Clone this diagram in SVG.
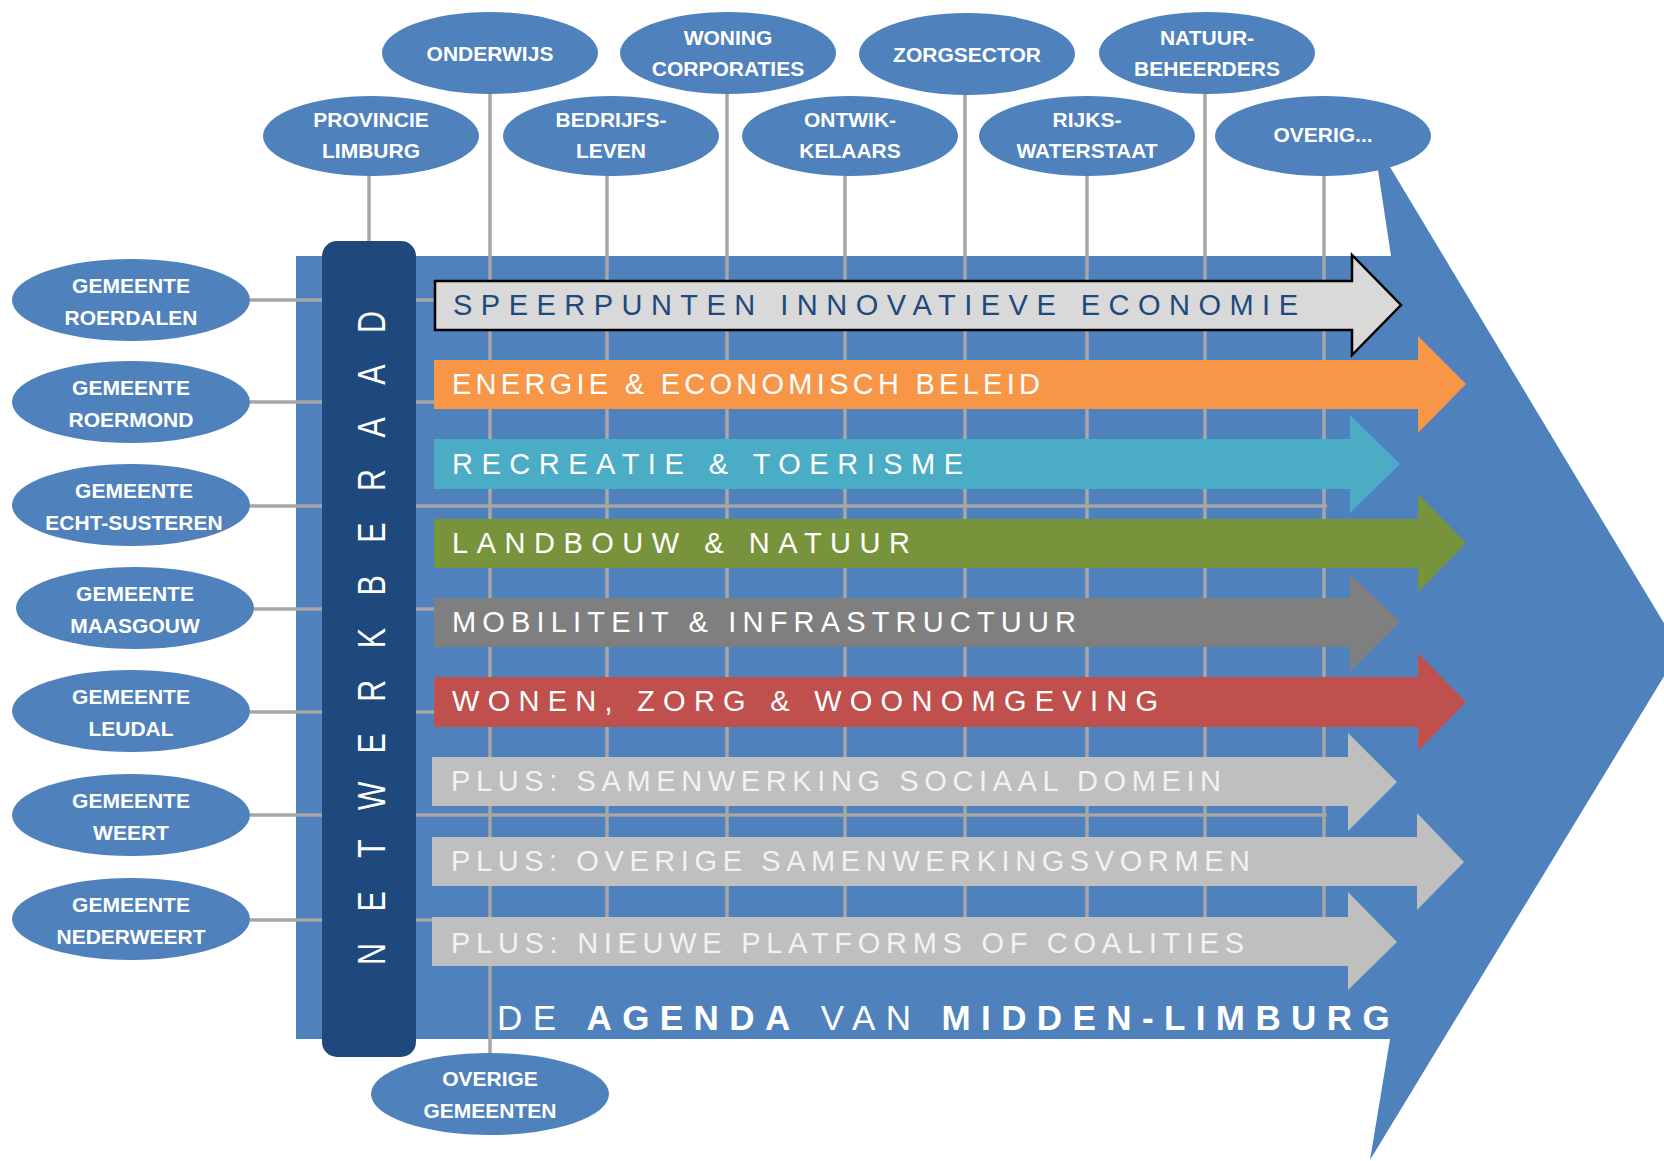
<svg xmlns="http://www.w3.org/2000/svg" width="1664" height="1161" viewBox="0 0 1664 1161">
<style>
.ell{fill:#4F81BD}
.et{font-family:"Liberation Sans",Arial,sans-serif;font-weight:bold;font-size:21px;fill:#FFFFFF;text-anchor:middle}
.ln{stroke:#A6A6A6;stroke-width:3.5;fill:none}
.at{font-family:"Liberation Sans",Arial,sans-serif;font-size:29px;fill:#FFFFFF}
.pt{fill:#F2F2F2}
</style>
<rect width="1664" height="1161" fill="#FFFFFF"/>
<g id="agenda-arrow">
<polygon points="296,256 1391,256 1378,170 1390,167 1680,650 1370,1160 1390,1039 296,1039" fill="#4F81BD"/>
</g>
<g id="connectors" class="ln">
<line x1="250" y1="300" x2="1327" y2="300"/>
<line x1="250" y1="402" x2="1327" y2="402"/>
<line x1="250" y1="506" x2="1327" y2="506"/>
<line x1="254" y1="609" x2="1327" y2="609"/>
<line x1="250" y1="712" x2="1327" y2="712"/>
<line x1="250" y1="815" x2="1327" y2="815"/>
<line x1="250" y1="920" x2="1327" y2="920"/>
<line x1="369" y1="170" x2="369" y2="245"/>
<line x1="490" y1="90" x2="490" y2="1055"/>
<line x1="607" y1="170" x2="607" y2="917"/>
<line x1="727" y1="90" x2="727" y2="917"/>
<line x1="845" y1="170" x2="845" y2="917"/>
<line x1="965" y1="90" x2="965" y2="917"/>
<line x1="1087" y1="170" x2="1087" y2="917"/>
<line x1="1205" y1="90" x2="1205" y2="917"/>
<line x1="1324" y1="170" x2="1324" y2="917"/>
</g>
<g id="netwerkberaad">
<rect x="322" y="241" width="94" height="816" rx="15" fill="#1F497D"/>
<text transform="translate(369 638) rotate(-90) scale(0.8 1)" y="16" x="-395 -329.17 -263.33 -197.5 -131.67 -65.83 0 65.83 131.67 197.5 263.33 329.17 395" font-family="'Liberation Sans',Arial,sans-serif" font-size="38" fill="#FFFFFF" text-anchor="middle">NETWERKBERAAD</text>
</g>
<g id="arrow-speerpunten">
<path d="M435,281 H1352 V255 L1401,305 L1352,355 V330 H435 Z" fill="#D9D9D9" stroke="#000000" stroke-width="2.5" stroke-linejoin="miter"/>
<text class="at" x="453" y="315" style="fill:#1F497D" textLength="845" lengthAdjust="spacing">SPEERPUNTEN INNOVATIEVE ECONOMIE</text>
</g>
<g id="arrow-energie">
<path d="M434,360 H1418 V336 L1466,384 L1418,433 V409 H434 Z" fill="#F79646"/>
<text class="at" x="452" y="394" textLength="588" lengthAdjust="spacing">ENERGIE &amp; ECONOMISCH BELEID</text>
</g>
<g id="arrow-recreatie">
<path d="M434,439 H1350 V415 L1400,464 L1350,513 V489 H434 Z" fill="#4BACC6"/>
<text class="at" x="452" y="474" textLength="511" lengthAdjust="spacing">RECREATIE &amp; TOERISME</text>
</g>
<g id="arrow-landbouw">
<path d="M434,519 H1418 V494 L1466,543 L1418,592 V568 H434 Z" fill="#77933C"/>
<text class="at" x="452" y="553" textLength="458" lengthAdjust="spacing">LANDBOUW &amp; NATUUR</text>
</g>
<g id="arrow-mobiliteit">
<path d="M434,598 H1350 V574 L1400,622 L1350,671 V647 H434 Z" fill="#7F7F7F"/>
<text class="at" x="452" y="632" textLength="624" lengthAdjust="spacing">MOBILITEIT &amp; INFRASTRUCTUUR</text>
</g>
<g id="arrow-wonen">
<path d="M434,677 H1418 V653 L1466,702 L1418,751 V727 H434 Z" fill="#C0504D"/>
<text class="at" x="452" y="711" textLength="706" lengthAdjust="spacing">WONEN, ZORG &amp; WOONOMGEVING</text>
</g>
<g id="arrow-sociaal">
<path d="M432,757 H1348 V733 L1397,782 L1348,831 V806 H432 Z" fill="#BFBFBF"/>
<text class="at pt" x="451" y="791" textLength="770" lengthAdjust="spacing">PLUS: SAMENWERKING SOCIAAL DOMEIN</text>
</g>
<g id="arrow-overige">
<path d="M432,837 H1417 V813 L1464,862 L1417,910 V886 H432 Z" fill="#BFBFBF"/>
<text class="at pt" x="451" y="871" textLength="799" lengthAdjust="spacing">PLUS: OVERIGE SAMENWERKINGSVORMEN</text>
</g>
<g id="arrow-platforms">
<path d="M432,917 H1348 V892 L1397,942 L1348,990 V966 H432 Z" fill="#BFBFBF"/>
<text class="at pt" x="451" y="953" textLength="793" lengthAdjust="spacing">PLUS: NIEUWE PLATFORMS OF COALITIES</text>
</g>
<g id="title">
<text x="497" y="1030" font-family="'Liberation Sans',Arial,sans-serif" font-size="35" fill="#FFFFFF" letter-spacing="10.4">DE <tspan font-weight="bold">AGENDA</tspan> VAN <tspan font-weight="bold">MIDDEN-LIMBURG</tspan></text>
</g>
<g id="node-onderwijs"><ellipse class="ell" cx="490" cy="53" rx="108" ry="41"/><text class="et" x="490" y="61">ONDERWIJS</text></g>
<g id="node-woning"><ellipse class="ell" cx="728" cy="53" rx="108" ry="41"/><text class="et" x="728" y="45">WONING</text><text class="et" x="728" y="76">CORPORATIES</text></g>
<g id="node-zorgsector"><ellipse class="ell" cx="967" cy="54" rx="108" ry="41"/><text class="et" x="967" y="62">ZORGSECTOR</text></g>
<g id="node-natuur"><ellipse class="ell" cx="1207" cy="53" rx="108" ry="41"/><text class="et" x="1207" y="45">NATUUR-</text><text class="et" x="1207" y="76">BEHEERDERS</text></g>
<g id="node-provincie"><ellipse class="ell" cx="371" cy="136" rx="108" ry="40"/><text class="et" x="371" y="127">PROVINCIE</text><text class="et" x="371" y="158">LIMBURG</text></g>
<g id="node-bedrijfsleven"><ellipse class="ell" cx="611" cy="136" rx="108" ry="40"/><text class="et" x="611" y="127">BEDRIJFS-</text><text class="et" x="611" y="158">LEVEN</text></g>
<g id="node-ontwikkelaars"><ellipse class="ell" cx="850" cy="136" rx="108" ry="40"/><text class="et" x="850" y="127">ONTWIK-</text><text class="et" x="850" y="158">KELAARS</text></g>
<g id="node-rijkswaterstaat"><ellipse class="ell" cx="1087" cy="136" rx="108" ry="40"/><text class="et" x="1087" y="127">RIJKS-</text><text class="et" x="1087" y="158">WATERSTAAT</text></g>
<g id="node-overig"><ellipse class="ell" cx="1323" cy="136" rx="108" ry="40"/><text class="et" x="1323" y="142">OVERIG...</text></g>
<g id="node-roerdalen"><ellipse class="ell" cx="131" cy="300" rx="119" ry="41"/><text class="et" x="131" y="293">GEMEENTE</text><text class="et" x="131" y="325">ROERDALEN</text></g>
<g id="node-roermond"><ellipse class="ell" cx="131" cy="402" rx="119" ry="41"/><text class="et" x="131" y="395">GEMEENTE</text><text class="et" x="131" y="427">ROERMOND</text></g>
<g id="node-echt-susteren"><ellipse class="ell" cx="131" cy="505" rx="119" ry="41"/><text class="et" x="134" y="498">GEMEENTE</text><text class="et" x="134" y="530">ECHT-SUSTEREN</text></g>
<g id="node-maasgouw"><ellipse class="ell" cx="135" cy="608" rx="119" ry="41"/><text class="et" x="135" y="601">GEMEENTE</text><text class="et" x="135" y="633">MAASGOUW</text></g>
<g id="node-leudal"><ellipse class="ell" cx="131" cy="711" rx="119" ry="41"/><text class="et" x="131" y="704">GEMEENTE</text><text class="et" x="131" y="736">LEUDAL</text></g>
<g id="node-weert"><ellipse class="ell" cx="131" cy="815" rx="119" ry="41"/><text class="et" x="131" y="808">GEMEENTE</text><text class="et" x="131" y="840">WEERT</text></g>
<g id="node-nederweert"><ellipse class="ell" cx="131" cy="919" rx="119" ry="41"/><text class="et" x="131" y="912">GEMEENTE</text><text class="et" x="131" y="944">NEDERWEERT</text></g>
<g id="node-overige-gemeenten"><ellipse class="ell" cx="490" cy="1094" rx="119" ry="41"/><text class="et" x="490" y="1086">OVERIGE</text><text class="et" x="490" y="1118">GEMEENTEN</text></g>
</svg>
